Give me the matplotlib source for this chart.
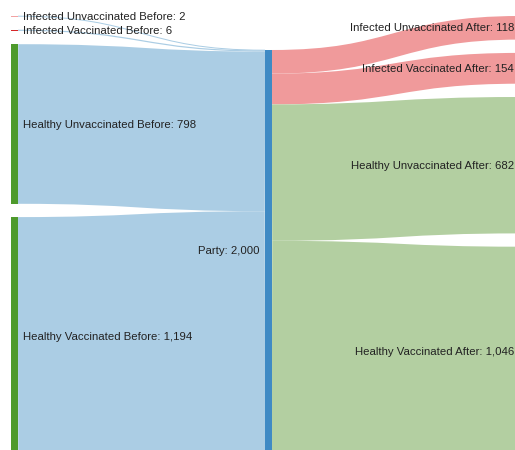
import matplotlib
matplotlib.use("Agg")
import matplotlib.pyplot as plt
from matplotlib.path import Path
from matplotlib.patches import PathPatch, Rectangle

# nodes: name, column, value
node_names = ["Infected Unvaccinated Before", "Infected Vaccinated Before",
              "Healthy Unvaccinated Before", "Healthy Vaccinated Before",
              "Party",
              "Infected Unvaccinated After", "Infected Vaccinated After",
              "Healthy Unvaccinated After", "Healthy Vaccinated After"]
node_cols = [0, 0, 0, 0, 1, 2, 2, 2, 2]
node_values = [2, 6, 798, 1194, 2000, 118, 154, 682, 1046]

# links: source index, target index, value
link_src = [0, 1, 2, 3, 4, 4, 4, 4]
link_tgt = [4, 4, 4, 4, 5, 6, 7, 8]
link_vals = [2, 6, 798, 1194, 118, 154, 682, 1046]

# styles
node_colors = ["#f2a3a3", "#d62728", "#4e9a2c", "#4e9a2c", "#3f8ac4",
               "#f2a3a3", "#d62728", "#4e9a2c", "#4e9a2c"]
link_colors = {"party": "#abcde4", "infected": "#f09a9b", "healthy": "#b3cfa1"}

W, H, DPI = 515, 450, 100
ky = 0.2          # px per unit
pad = 13.3        # px between nodes in a column
node_w = 7
col_x = [11, 265, 520]
col_top = [16, 50, 16]

# --- layout ---
y0 = {}
y1 = {}
cursor = dict(enumerate(col_top))
for i, v in enumerate(node_values):
    c = node_cols[i]
    y0[i] = cursor[c]
    y1[i] = y0[i] + v * ky
    cursor[c] = y1[i] + pad

# link offsets at each end (ordered by the other end's position)
out_off = {i: y0[i] for i in range(len(node_names))}
in_off = dict(out_off)
link_sy = [0] * len(link_vals)
link_ty = [0] * len(link_vals)
for k in sorted(range(len(link_vals)), key=lambda k: y0[link_tgt[k]]):
    w = link_vals[k] * ky
    link_sy[k] = out_off[link_src[k]] + w / 2
    out_off[link_src[k]] += w
for k in sorted(range(len(link_vals)), key=lambda k: y0[link_src[k]]):
    w = link_vals[k] * ky
    link_ty[k] = in_off[link_tgt[k]] + w / 2
    in_off[link_tgt[k]] += w

fig = plt.figure(figsize=(W / DPI, H / DPI), dpi=DPI)
ax = fig.add_axes([0, 0, 1, 1])
ax.set_xlim(0, W)
ax.set_ylim(H, 0)
ax.axis("off")

px2pt = 72 / DPI
for k in range(len(link_vals)):
    s, t = link_src[k], link_tgt[k]
    xa = col_x[node_cols[s]] + node_w
    xb = col_x[node_cols[t]]
    xm = (xa + xb) / 2
    path = Path([(xa, link_sy[k]), (xm, link_sy[k]), (xm, link_ty[k]), (xb, link_ty[k])],
                [Path.MOVETO, Path.CURVE4, Path.CURVE4, Path.CURVE4])
    if node_names[t] == "Party":
        col = link_colors["party"]
    elif node_names[t].startswith("Infected"):
        col = link_colors["infected"]
    else:
        col = link_colors["healthy"]
    ax.add_patch(PathPatch(path, fill=False, edgecolor=col,
                           linewidth=max(1, link_vals[k] * ky) * px2pt,
                           capstyle="butt", zorder=1))

for i, name in enumerate(node_names):
    c = node_cols[i]
    h = max(y1[i] - y0[i], 1.2)
    ax.add_patch(Rectangle((col_x[c], y0[i]), node_w, h, facecolor=node_colors[i],
                           edgecolor="none", zorder=2))
    label = f"{name}: {node_values[i]:,}"
    yc = (y0[i] + y1[i]) / 2 + 0.5
    if c == 0:
        ax.text(col_x[c] + node_w + 5, yc, label, ha="left", va="center",
                fontsize=8.2, family="Liberation Sans", color="#222222", zorder=3)
    else:
        ax.text(col_x[c] - 6, yc, label, ha="right", va="center",
                fontsize=8.2, family="Liberation Sans", color="#222222", zorder=3)

fig.savefig("out.png", dpi=DPI)
